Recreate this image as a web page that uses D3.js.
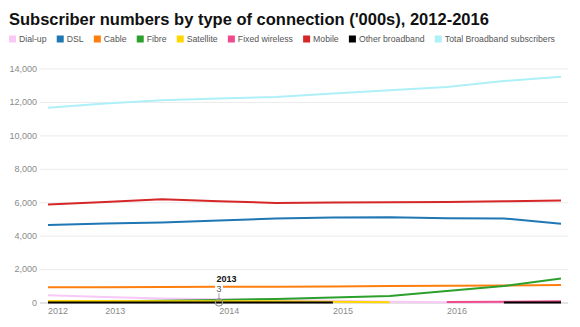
<!DOCTYPE html>
<html>
<head>
<meta charset="utf-8">
<script src="https://cdn.jsdelivr.net/npm/d3@7"></script>
<style>
  body { margin: 0; background: #fff; }
  svg { display: block; font-family: "Liberation Sans", Arial, sans-serif; }
</style>
</head>
<body>
<div id="chart"></div>
<script>
// half-yearly readings, '000s
const periods = ["2012-06", "2012-12", "2013-06", "2013-12", "2014-06", "2014-12", "2015-06", "2015-12", "2016-06", "2016-12"];
const seriesNames = ["Dial-up", "DSL", "Cable", "Fibre", "Satellite", "Fixed wireless", "Mobile", "Other broadband", "Total Broadband subscribers"];
const seriesColors = ["#f8c8f6", "#1f77b4", "#ff7f0e", "#2ca02c", "#ffd700", "#ef4a8c", "#d62728", "#000000", "#aef0f7"];

const dialUp = [430, 330, 240, 200, 160, 110, 40, 20, 10, 10];
const dsl = [4630, 4720, 4790, 4900, 5030, 5080, 5100, 5040, 5030, 4710];
const cable = [910, 915, 925, 935, 945, 960, 980, 1000, 1020, 1040];
const fibre = [60, 80, 110, 150, 210, 300, 390, 690, 990, 1430];
const satellite = [90, 90, 80, 80, 70, 40, 20, null, null, null];
const fixedWireless = [null, null, null, null, null, null, null, 30, 50, 70];
const mobile = [5870, 6020, 6170, 6060, 5960, 5990, 6000, 6020, 6060, 6100];
const otherBroadband = [3, 3, 3, 3, 3, 3, null, null, 3, 3];
const totalBroadband = [11650, 11900, 12100, 12200, 12300, 12500, 12700, 12900, 13250, 13500];

const yTicks = [0, 2000, 4000, 6000, 8000, 10000, 12000, 14000];
const xTickYears = [2012, 2013, 2014, 2015, 2016];

// point shown with the hover label
const hoverSeries = 7, hoverIndex = 3;

const allValues = [dialUp, dsl, cable, fibre, satellite, fixedWireless, mobile, otherBroadband, totalBroadband];
const parse = d3.timeParse("%Y-%m");
const dates = periods.map(parse);

const W = 580, H = 327;
const svg = d3.select("#chart").append("svg")
  .attr("width", W)
  .attr("height", H);

svg.append("text")
  .attr("x", 9)
  .attr("y", 24.5)
  .attr("font-size", 16.5)
  .attr("font-weight", "bold")
  .attr("fill", "#111")
  .text("Subscriber numbers by type of connection ('000s), 2012-2016");

// legend
let lx = 9;
seriesNames.forEach((name, i) => {
  let g = svg.append("g").attr("transform", "translate(" + lx + ",0)");
  g.append("rect")
    .attr("x", 0).attr("y", 35.5)
    .attr("width", 7).attr("height", 7)
    .attr("fill", seriesColors[i]);
  let t = g.append("text")
    .attr("x", 10).attr("y", 42.3)
    .attr("font-size", 8.7)
    .attr("fill", "#555")
    .text(name);
  lx += 10 + t.node().getComputedTextLength() + 10.2;
});

let x = d3.scaleTime()
  .domain(d3.extent(dates))
  .range([48, 561]);

let y = d3.scaleLinear()
  .domain([0, 14000])
  .range([302.5, 68.5]);

// gridlines + y labels
svg.append("g")
  .attr("transform", "translate(40,0)")
  .call(d3.axisLeft(y).tickValues(yTicks).tickSize(-528).tickPadding(3).tickFormat(d3.format(",")))
  .call(g => g.select(".domain").remove())
  .call(g => g.selectAll(".tick line").attr("stroke", d => d === 0 ? "#c8c8c8" : "#ebebeb"))
  .call(g => g.selectAll(".tick text").attr("fill", "#8a8a8a").attr("font-size", 9));

// x labels at each new year; one that falls left of the data is pinned to its start
let xAxis = svg.append("g")
  .attr("transform", "translate(0,302.5)")
  .call(d3.axisBottom(x).tickValues(xTickYears.map(yr => new Date(yr, 0, 1))).tickSize(0).tickPadding(5).tickFormat(d3.timeFormat("%Y")));
xAxis.select(".domain").remove();
xAxis.selectAll(".tick text").attr("fill", "#8a8a8a").attr("font-size", 9).attr("dy", "0.71em");
xAxis.selectAll(".tick").filter(d => x(d) < x.range()[0])
  .attr("transform", "translate(" + x.range()[0] + ",0)")
  .select("text").attr("text-anchor", "start");

let line = d3.line()
  .defined(d => d.v != null)
  .x(d => x(d.date))
  .y(d => y(d.v));

allValues.forEach((vals, i) => {
  svg.append("path")
    .datum(vals.map((v, j) => ({ date: dates[j], v: v })))
    .attr("fill", "none")
    .attr("stroke", seriesColors[i])
    .attr("stroke-width", 2)
    .attr("stroke-linejoin", "round")
    .attr("d", line);
});

// hover label on one point
let hx = x(dates[hoverIndex]), hy = y(allValues[hoverSeries][hoverIndex]);
let tip = svg.append("g");
tip.append("line")
  .attr("x1", hx).attr("x2", hx)
  .attr("y1", hy - 10).attr("y2", hy - 3.5)
  .attr("stroke", "#999");
tip.append("circle")
  .attr("cx", hx).attr("cy", hy).attr("r", 3.5)
  .attr("fill", "none")
  .attr("stroke", "#999")
  .attr("stroke-width", 1.2);
tip.append("rect")
  .attr("x", hx - 4).attr("y", hy - 19)
  .attr("width", 8).attr("height", 10)
  .attr("fill", "#fff");
tip.append("text")
  .attr("x", hx).attr("y", hy - 10.5)
  .attr("text-anchor", "middle")
  .attr("font-size", 9)
  .attr("fill", "#555")
  .text(allValues[hoverSeries][hoverIndex]);
tip.append("text")
  .attr("x", hx - 2.5).attr("y", hy - 20.5)
  .attr("font-size", 9)
  .attr("font-weight", "bold")
  .attr("fill", "#111")
  .text(d3.timeFormat("%Y")(dates[hoverIndex]));
</script>
</body>
</html>
